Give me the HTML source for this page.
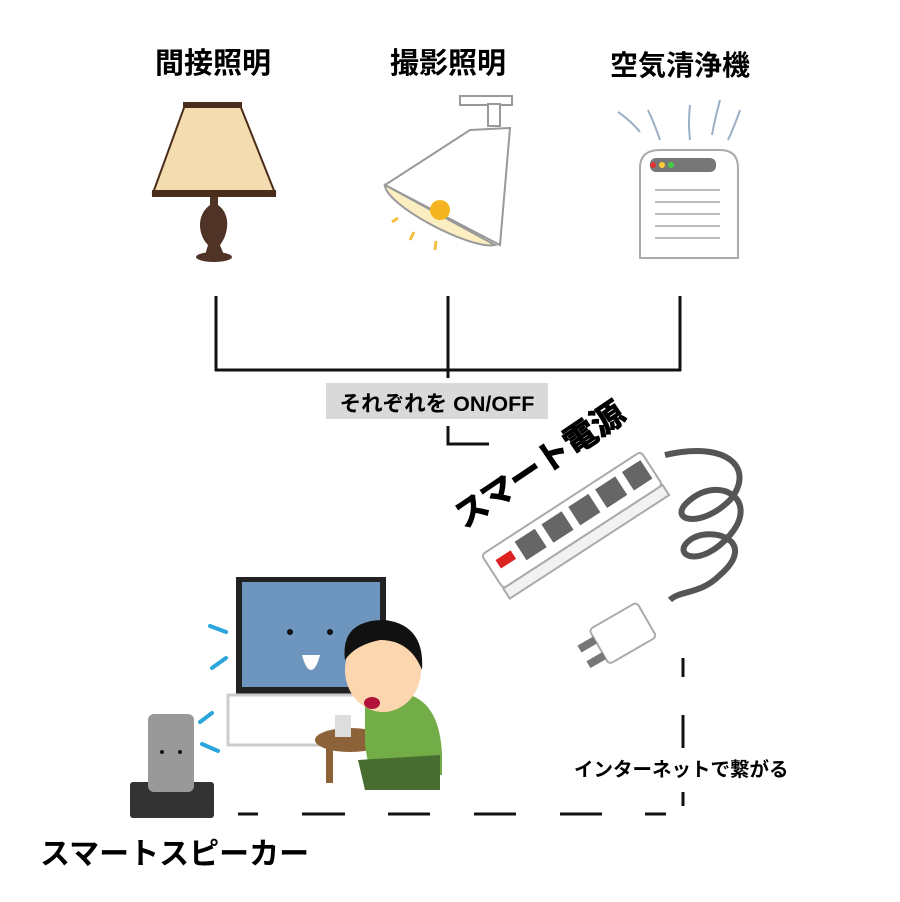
<!DOCTYPE html>
<html><head><meta charset="utf-8"><style>
html,body{margin:0;padding:0;background:#fff;}
svg{display:block}
text{font-family:"Liberation Sans","Noto Sans CJK JP",sans-serif;font-weight:bold;fill:#000}
</style></head><body>
<svg width="900" height="902" viewBox="0 0 900 902">
<!-- titles -->
<text x="213" y="73" font-size="29" text-anchor="middle">間接照明</text>
<text x="448" y="73" font-size="29" text-anchor="middle">撮影照明</text>
<text x="680" y="75" font-size="28" text-anchor="middle">空気清浄機</text>

<!-- table lamp -->
<path d="M185,105 L240,105 L275,193 L153,193 Z" fill="#f3ddb0" stroke="#4a2d1a" stroke-width="2"/>
<rect x="183" y="102" width="59" height="6" fill="#4a2d1a"/>
<rect x="152" y="190" width="124" height="7" fill="#4a2d1a"/>
<path d="M210,197 L218,197 L218,205 C232,215 228,235 220,245 L224,255 L205,255 L208,245 C198,235 196,215 210,205 Z" fill="#4f3326"/>
<ellipse cx="214" cy="257" rx="18" ry="5" fill="#4f3326"/>

<!-- spot light -->
<rect x="460" y="96" width="52" height="9" fill="#fff" stroke="#999" stroke-width="2"/>
<rect x="488" y="104" width="12" height="22" fill="#fff" stroke="#999" stroke-width="2"/>
<path d="M470,130 L510,128 L500,245 L385,185 Z" fill="#fff" stroke="#999" stroke-width="2"/>
<path d="M385,185 L495,245 C470,250 385,205 385,185 Z" fill="#fbeec0" stroke="#999" stroke-width="2"/>
<circle cx="440" cy="210" r="10" fill="#f4b51e"/>
<g stroke="#f0c040" stroke-width="3"><line x1="392" y1="222" x2="398" y2="218"/><line x1="410" y1="240" x2="414" y2="232"/><line x1="435" y1="250" x2="436" y2="241"/></g>

<!-- air purifier -->
<path d="M640,168 Q640,150 660,150 L720,150 Q738,150 738,168 L738,258 L640,258 Z" fill="#fff" stroke="#aaa" stroke-width="2"/>
<rect x="650" y="158" width="66" height="14" rx="6" fill="#777"/>
<circle cx="653" cy="165" r="3" fill="#d33"/><circle cx="662" cy="165" r="3" fill="#fc3"/><circle cx="671" cy="165" r="3" fill="#4c4"/>
<g stroke="#bbb" stroke-width="2"><line x1="655" y1="190" x2="720" y2="190"/><line x1="655" y1="202" x2="720" y2="202"/><line x1="655" y1="214" x2="720" y2="214"/><line x1="655" y1="226" x2="720" y2="226"/><line x1="655" y1="238" x2="720" y2="238"/></g>
<g fill="none" stroke="#9bb0c4" stroke-width="2"><path d="M618,112 Q630,120 640,132"/><path d="M648,110 Q655,125 660,140"/><path d="M690,105 Q688,122 690,140"/><path d="M720,100 Q715,118 712,135"/><path d="M740,110 Q735,125 728,140"/></g>

<!-- connector lines -->
<g stroke="#111" stroke-width="3" fill="none">
<line x1="216" y1="296" x2="216" y2="371"/>
<line x1="680" y1="296" x2="680" y2="371"/>
<line x1="215" y1="370" x2="681" y2="370"/>
<line x1="448" y1="296" x2="448" y2="378"/>
<polyline points="448,426 448,444 489,444"/>
</g>
<rect x="326" y="383" width="222" height="36" fill="#d9d9d9"/>
<text x="437" y="411" font-size="21.5" text-anchor="middle">それぞれを ON/OFF</text>

<!-- power strip -->
<g transform="translate(572,520) rotate(-33)">
<rect x="-95" y="-20" width="190" height="40" rx="4" fill="#fff" stroke="#aaa" stroke-width="2"/>
<rect x="-95" y="20" width="190" height="12" fill="#f2f2f2" stroke="#aaa" stroke-width="2"/>
<rect x="-86" y="-8" width="18" height="10" fill="#d22"/>
<rect x="-60" y="-13" width="24" height="22" fill="#666"/><rect x="-28" y="-13" width="24" height="22" fill="#666"/><rect x="4" y="-13" width="24" height="22" fill="#666"/><rect x="36" y="-13" width="24" height="22" fill="#666"/><rect x="68" y="-13" width="22" height="22" fill="#666"/>
</g>
<path d="M665,455 C730,440 755,470 730,500 C700,530 665,520 690,500 C720,475 760,500 730,535 C700,570 670,555 690,540 C710,525 760,540 720,575 C700,595 680,590 670,600" fill="none" stroke="#555" stroke-width="6"/>
<g transform="translate(625,632) rotate(-30)">
<rect x="-30" y="-20" width="55" height="40" rx="4" fill="#fff" stroke="#aaa" stroke-width="2"/>
<rect x="-48" y="-12" width="18" height="8" fill="#777"/><rect x="-48" y="6" width="18" height="8" fill="#777"/>
</g>
<text transform="translate(546,474) rotate(-34)" font-size="33" text-anchor="middle" stroke="#000" stroke-width="1">スマート電源</text>

<!-- TV -->
<rect x="236" y="577" width="150" height="118" fill="#222"/>
<rect x="242" y="582" width="138" height="105" fill="#6e95bd"/>
<rect x="228" y="695" width="180" height="50" fill="#fff" stroke="#ccc" stroke-width="3"/>
<circle cx="290" cy="632" r="3" fill="#111"/><circle cx="330" cy="632" r="3" fill="#111"/>
<path d="M302,655 L320,655 Q316,670 311,670 Q306,670 302,655 Z" fill="#fff"/>
<g stroke="#2aa6dc" stroke-width="4" stroke-linecap="round"><line x1="210" y1="626" x2="226" y2="632"/><line x1="212" y1="668" x2="226" y2="658"/><line x1="200" y1="722" x2="212" y2="713"/><line x1="202" y1="744" x2="218" y2="751"/></g>

<!-- boy and table -->
<ellipse cx="350" cy="740" rx="35" ry="12" fill="#8c6238"/>
<rect x="326" y="745" width="7" height="38" fill="#8c6238"/>
<rect x="335" y="715" width="16" height="22" fill="#ddd"/>
<path d="M365,705 Q380,690 410,695 Q440,705 442,755 L442,775 L370,775 L365,745 Z" fill="#73ad48"/>
<path d="M358,760 L440,755 L440,790 L365,790 Z" fill="#476e30"/>
<ellipse cx="383" cy="670" rx="38" ry="42" fill="#fcd6ae"/>
<path d="M345,660 Q340,620 385,620 Q425,625 422,670 Q410,640 380,640 Q355,645 345,660 Z" fill="#111"/>
<ellipse cx="372" cy="703" rx="8" ry="6" fill="#b0123a"/>

<!-- smart speaker -->
<rect x="130" y="782" width="84" height="36" rx="3" fill="#333"/>
<rect x="148" y="714" width="46" height="78" rx="6" fill="#999"/>
<circle cx="162" cy="752" r="2" fill="#111"/><circle cx="180" cy="752" r="2" fill="#111"/>

<!-- dashed internet line -->
<g stroke="#111" stroke-width="3">
<line x1="238" y1="814" x2="258" y2="814"/><line x1="302" y1="814" x2="345" y2="814"/><line x1="388" y1="814" x2="430" y2="814"/><line x1="474" y1="814" x2="516" y2="814"/><line x1="560" y1="814" x2="602" y2="814"/><line x1="645" y1="814" x2="666" y2="814"/>
<line x1="683" y1="658" x2="683" y2="677"/><line x1="683" y1="715" x2="683" y2="748"/><line x1="683" y1="792" x2="683" y2="806"/>
</g>
<text x="574" y="776" font-size="19.5">インターネットで繋がる</text>
<text x="40" y="864" font-size="30">スマートスピーカー</text>
</svg>
</body></html>
